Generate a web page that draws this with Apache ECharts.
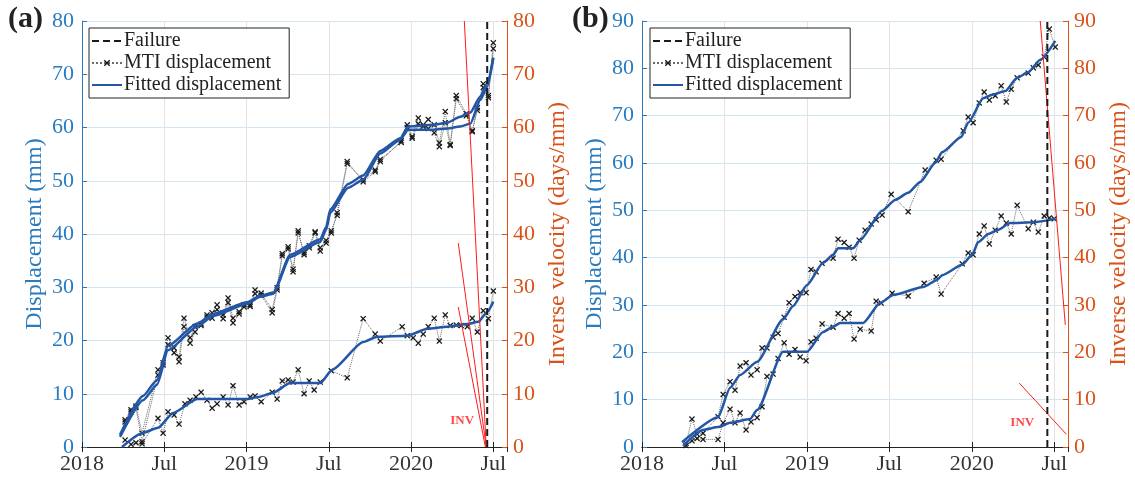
<!DOCTYPE html>
<html>
<head>
<meta charset="utf-8">
<script src="https://cdn.jsdelivr.net/npm/echarts@6/dist/echarts.min.js"></script>
<style>
  html, body { margin: 0; padding: 0; background: #fff; }
  #chart { width: 1135px; height: 479px; }
</style>
</head>
<body>
<div id="chart"></div>
<script>
// Time is given in decimal years (2018.5 = start of July 2018).
const xTickLabels = { whole: y => String(y), half: 'Jul' };

// ---------- Panel (a) ----------
const aUpT = [2018.262,2018.298,2018.328,2018.365,2018.462,2018.493,2018.523,2018.560,2018.590,2018.620,
  2018.657,2018.687,2018.724,2018.760,2018.791,2018.821,2018.858,2018.888,2018.918,2018.955,
  2018.985,2019.022,2019.052,2019.089,2019.156,2019.186,2019.217,2019.253,2019.283,2019.314,
  2019.350,2019.381,2019.417,2019.448,2019.484,2019.515,2019.551,2019.612,2019.709,2019.782,
  2019.813,2019.940,2019.977,2020.007,2020.044,2020.074,2020.105,2020.141,2020.172,2020.208,
  2020.238,2020.275,2020.336,2020.372,2020.403,2020.439,2020.470,2020.500];
const aUp1 = [5.1,7.0,7.7,2.6,14.5,15.8,20.5,18.6,16.9,24.2,
  20.5,22.6,23.1,24.8,25.2,26.7,24.8,28.0,24.2,25.4,
  26.7,26.7,29.5,28.9,25.8,29.9,36.3,37.6,32.9,40.6,
  36.1,37.4,40.2,36.8,38.3,40.2,44.0,53.6,49.8,51.7,
  53.6,57.5,60.5,58.3,61.8,60.5,61.5,60.5,57.1,63.0,
  56.8,66.0,62.6,59.2,63.7,68.2,66.0,75.9];
const aUp2 = [4.7,6.6,7.4,1.0,13.5,15.4,19.2,17.7,16.0,22.6,
  19.5,21.6,22.8,24.4,24.2,25.8,24.1,27.1,23.3,25.0,
  26.3,26.4,28.8,28.5,25.2,29.5,35.9,37.2,33.4,40.2,
  36.5,37.8,40.4,37.4,38.8,40.6,43.5,53.2,50.2,52.0,
  54.0,57.2,60.0,58.0,60.7,60.2,59.8,59.0,56.4,60.9,
  56.6,65.4,62.2,59.4,63.2,67.5,65.6,74.8];

const aLowT = [2018.262,2018.298,2018.328,2018.365,2018.462,2018.493,2018.523,2018.560,2018.590,2018.626,
  2018.657,2018.693,2018.724,2018.760,2018.791,2018.821,2018.858,2018.888,2018.918,2018.955,
  2018.985,2019.022,2019.052,2019.089,2019.156,2019.186,2019.217,2019.253,2019.283,2019.314,
  2019.350,2019.381,2019.411,2019.448,2019.515,2019.612,2019.709,2019.782,2019.813,2019.946,
  2019.977,2020.013,2020.044,2020.074,2020.105,2020.141,2020.172,2020.208,2020.238,2020.275,
  2020.305,2020.342,2020.372,2020.403,2020.439,2020.470,2020.500];
const aLow = [1.3,0.5,0.8,0.6,5.4,2.6,6.6,6.0,4.3,8.1,
  8.8,9.4,10.3,8.8,7.3,8.1,9.4,7.9,11.5,7.9,
  8.5,9.4,9.6,8.5,10.3,9.0,12.4,12.6,12.2,14.5,
  10.0,12.4,10.7,12.2,14.3,13.0,24.1,21.2,19.9,22.6,
  20.9,20.5,19.5,21.2,22.6,24.2,19.9,24.8,22.8,22.9,
  22.8,22.6,24.2,21.6,25.6,24.1,29.3];

const aFitUpT = [2018.231,2018.371,2018.456,2018.523,2018.700,2018.797,2019.004,2019.083,2019.162,2019.265,
  2019.448,2019.484,2019.509,2019.618,2019.709,2019.813,2019.934,2019.983,2020.135,2020.220,
  2020.299,2020.360,2020.421,2020.464,2020.500];
const aFitUp1 = [1.9,8.8,11.7,18.2,22.6,24.6,26.9,28.2,28.8,35.7,
  38.5,40.8,44.0,48.7,50.2,55.1,57.7,59.6,59.6,59.8,
  60.2,60.7,65.2,67.7,73.1];
const aFitUp2 = [2.3,9.6,12.6,19.0,23.2,25.0,27.2,28.4,29.0,36.1,
  39.0,41.3,44.6,49.4,51.0,55.6,58.0,60.2,60.5,60.9,
  62.0,62.8,65.8,68.4,73.1];

const aFitLowT = [2018.243,2018.365,2018.462,2018.554,2018.700,2019.004,2019.071,2019.162,2019.265,2019.448,
  2019.521,2019.709,2019.794,2019.977,2020.099,2020.220,2020.342,2020.409,2020.464,2020.500];
const aFitLow = [0.0,2.6,3.6,6.4,9.0,9.0,9.4,10.2,12.0,12.0,
  14.5,19.7,20.7,20.9,22.2,22.6,23.1,23.5,25.4,27.3];

const aFailure = 2020.463;
const aInvLines = [
  [[2020.324, 80], [2020.457, 0]],
  [[2020.287, 38.3], [2020.457, 0]],
  [[2020.287, 26.3], [2020.452, 0]]
];
const aInvLabel = [2020.311, 4.9];

// ---------- Panel (b) ----------
const bUpT = [2018.267,2018.303,2018.334,2018.370,2018.461,2018.492,2018.534,2018.564,2018.595,2018.631,
  2018.661,2018.698,2018.728,2018.758,2018.795,2018.825,2018.862,2018.892,2018.928,2018.959,
  2018.995,2019.025,2019.056,2019.092,2019.159,2019.189,2019.226,2019.256,2019.286,2019.317,
  2019.353,2019.390,2019.420,2019.456,2019.511,2019.614,2019.717,2019.784,2019.814,2019.948,
  2019.978,2020.008,2020.045,2020.075,2020.106,2020.142,2020.178,2020.209,2020.239,2020.275,
  2020.342,2020.373,2020.403,2020.439,2020.470,2020.506];
const bUp = [0.8,5.9,2.7,2.9,6.4,11.1,13.8,12.0,17.1,17.8,
  15.2,16.3,20.9,20.9,23.2,24.0,27.4,30.5,31.8,32.6,
  32.6,37.5,37.0,38.8,39.9,43.9,43.2,42.2,39.9,43.7,
  45.8,47.1,48.0,49.0,53.4,49.7,58.5,60.6,60.8,66.8,
  69.7,68.5,72.7,75.0,73.3,74.2,76.3,72.9,75.6,78.0,
  79.0,80.1,80.7,82.4,88.3,84.5];

const bLowT = [2018.267,2018.303,2018.334,2018.370,2018.461,2018.492,2018.534,2018.564,2018.595,2018.631,
  2018.661,2018.698,2018.728,2018.758,2018.795,2018.825,2018.862,2018.892,2018.928,2018.959,
  2018.995,2019.025,2019.056,2019.092,2019.159,2019.189,2019.226,2019.256,2019.286,2019.323,
  2019.390,2019.420,2019.450,2019.517,2019.614,2019.711,2019.784,2019.814,2019.942,2019.978,
  2020.008,2020.045,2020.075,2020.106,2020.142,2020.178,2020.209,2020.239,2020.275,2020.342,
  2020.373,2020.403,2020.439,2020.470,2020.500];
const bLow = [0.3,1.3,1.8,1.6,1.6,5.1,8.0,5.1,7.2,3.6,
  5.3,6.2,8.5,14.9,15.4,18.7,22.0,19.6,20.6,19.0,
  18.2,22.2,23.0,26.0,25.3,28.2,27.2,28.2,22.8,24.9,
  24.5,30.8,30.4,32.5,31.9,34.6,35.9,32.3,38.7,41.0,
  40.6,45.0,46.7,42.9,45.8,48.8,47.3,45.0,51.1,46.1,
  47.5,45.4,48.8,48.4,48.2];

const bFitUpT = [2018.243,2018.461,2018.534,2018.595,2018.698,2018.856,2018.916,2019.001,2019.098,2019.159,
  2019.189,2019.280,2019.323,2019.456,2019.535,2019.614,2019.687,2019.778,2019.820,2019.936,
  2019.978,2020.069,2020.124,2020.203,2020.275,2020.342,2020.415,2020.506];
const bFitUp = [1.0,6.3,12.5,15.2,18.0,27.0,29.8,34.2,38.9,40.6,
  42.0,42.0,43.7,49.9,52.2,53.7,56.0,60.0,62.3,65.5,
  68.5,73.7,74.4,75.2,78.0,79.2,81.8,85.8];

const bFitLowT = [2018.249,2018.370,2018.461,2018.534,2018.655,2018.698,2018.856,2019.001,2019.098,2019.159,
  2019.201,2019.341,2019.444,2019.523,2019.705,2019.790,2019.820,2019.942,2020.002,2020.039,
  2020.100,2020.154,2020.233,2020.373,2020.506];
const bFitLow = [0.2,3.6,4.2,5.1,5.9,7.8,20.1,20.1,24.3,25.4,
  26.2,26.2,30.4,32.1,33.8,35.3,36.3,38.5,40.6,43.3,
  45.0,45.8,47.3,47.5,48.2];

const bFailure = 2020.458;
const bInvLines = [
  [[2020.415, 90], [2020.567, 25.8]],
  [[2020.288, 13.5], [2020.573, 2.7]]
];
const bInvLabel = [2020.306, 5.1];

const xMin = 2018, xMax = 2020.5833;
const leftMax = [80, 90];
const rightMax = [80, 90];
const panelLabels = ['(a)', '(b)'];

// ---------- Styling ----------
const FONT = 'Liberation Serif';
const AXIS_BLUE = '#2a7bbf';
const AXIS_ORANGE = '#d95319';
const FIT_BLUE = '#2456a6';
const INV_RED = '#ff1a1a';
const CROSS = 'path://M0,1.5L1.5,0L5,3.5L8.5,0L10,1.5L6.5,5L10,8.5L8.5,10L5,6.5L1.5,10L0,8.5L3.5,5Z';
const CLEAR = 'rgba(0,0,0,0)';

const pairs = (t, v) => t.map((x, i) => [x, v[i]]);

function xLabel(v) {
  const r = Math.round(v);
  if (Math.abs(v - r) < 1e-6) return xTickLabels.whole(r);
  if (Math.abs(v - Math.floor(v) - 0.5) < 1e-6) return xTickLabels.half;
  return '';
}

const grids = [
  { left: 82, top: 21, width: 425, height: 426 },
  { left: 642, top: 21, width: 426, height: 426 }
];

const xAxes = [], yAxes = [];
[0, 1].forEach(g => {
  xAxes.push({
    gridIndex: g, type: 'value', min: xMin, max: xMax, interval: 0.5,
    axisLine: { lineStyle: { color: '#222', width: 1 } },
    axisTick: { inside: true, length: 5, lineStyle: { color: '#222' } },
    axisLabel: { formatter: xLabel, showMaxLabel: false, fontFamily: FONT, fontSize: 22, color: '#333', margin: 6 },
    splitLine: { show: true, lineStyle: { color: '#e3e3e3', width: 1 } }
  });
  xAxes.push({
    gridIndex: g, type: 'value', position: 'top', min: xMin, max: xMax, interval: 0.5,
    axisLine: { lineStyle: { color: '#222', width: 1 } },
    axisTick: { inside: true, length: 5, lineStyle: { color: '#222' } },
    axisLabel: { show: false }, splitLine: { show: false }
  });
  yAxes.push({
    gridIndex: g, type: 'value', position: 'left', min: 0, max: leftMax[g], interval: 10,
    name: 'Displacement (mm)', nameLocation: 'middle', nameGap: 35,
    nameTextStyle: { fontFamily: FONT, fontSize: 24, color: AXIS_BLUE },
    axisLine: { show: true, lineStyle: { color: AXIS_BLUE, width: 1 } },
    axisTick: { show: true, inside: true, length: 5, lineStyle: { color: AXIS_BLUE } },
    axisLabel: { fontFamily: FONT, fontSize: 22, color: AXIS_BLUE, margin: 8 },
    splitLine: { show: true, lineStyle: { color: '#d3e5f1', width: 1 } }
  });
  yAxes.push({
    gridIndex: g, type: 'value', position: 'right', min: 0, max: rightMax[g], interval: 10,
    name: 'Inverse velocity (days/mm)', nameLocation: 'middle', nameGap: 39,
    nameTextStyle: { fontFamily: FONT, fontSize: 24, color: AXIS_ORANGE },
    axisLine: { show: true, lineStyle: { color: AXIS_ORANGE, width: 1 } },
    axisTick: { show: true, inside: true, length: 5, lineStyle: { color: AXIS_ORANGE } },
    axisLabel: { fontFamily: FONT, fontSize: 22, color: AXIS_ORANGE, margin: 6 },
    splitLine: { show: false }
  });
});

function mtiSeries(g, data) {
  return {
    name: 'MTI displacement', type: 'line', xAxisIndex: g * 2, yAxisIndex: g * 2,
    data, symbol: CROSS, symbolSize: 6, showAllSymbol: true,
    itemStyle: { color: '#1a1a1a' },
    lineStyle: { type: 'dotted', width: 1, color: '#6a6a6a' },
    z: 2, silent: true
  };
}
function fitSeries(g, data) {
  return {
    name: 'Fitted displacement', type: 'line', xAxisIndex: g * 2, yAxisIndex: g * 2,
    data, symbol: 'none', smooth: 0.2, smoothMonotone: 'x',
    lineStyle: { color: FIT_BLUE, width: 2.5 }, itemStyle: { color: FIT_BLUE },
    z: 3, silent: true
  };
}
function failureSeries(g, t) {
  return {
    name: 'Failure', type: 'line', xAxisIndex: g * 2, yAxisIndex: g * 2,
    data: [[t, 0], [t, leftMax[g]]], symbol: 'none',
    lineStyle: { color: '#1a1a1a', width: 2, type: [7, 4] }, itemStyle: { color: '#1a1a1a' },
    z: 6, silent: true
  };
}
function invSeries(g, seg) {
  return {
    type: 'line', xAxisIndex: g * 2, yAxisIndex: g * 2 + 1,
    data: seg, symbol: 'none', lineStyle: { color: INV_RED, width: 1 },
    z: 5, silent: true
  };
}
function invLabel(g, p) {
  return {
    type: 'scatter', xAxisIndex: g * 2, yAxisIndex: g * 2 + 1,
    data: [p], symbolSize: 0, silent: true, z: 7,
    label: { show: true, position: 'inside', formatter: 'INV', fontFamily: FONT, fontSize: 13, fontWeight: 'bold', color: INV_RED }
  };
}

const series = [
  mtiSeries(0, pairs(aUpT, aUp1)),
  mtiSeries(0, pairs(aUpT, aUp2)),
  mtiSeries(0, pairs(aLowT, aLow)),
  fitSeries(0, pairs(aFitUpT, aFitUp1)),
  fitSeries(0, pairs(aFitUpT, aFitUp2)),
  fitSeries(0, pairs(aFitLowT, aFitLow)),
  ...aInvLines.map(s => invSeries(0, s)),
  invLabel(0, aInvLabel),
  failureSeries(0, aFailure),

  mtiSeries(1, pairs(bUpT, bUp)),
  mtiSeries(1, pairs(bLowT, bLow)),
  fitSeries(1, pairs(bFitUpT, bFitUp)),
  fitSeries(1, pairs(bFitLowT, bFitLow)),
  ...bInvLines.map(s => invSeries(1, s)),
  invLabel(1, bInvLabel),
  failureSeries(1, bFailure)
];

// Legend: plain line icons for the failure and fitted curves, line + cross for MTI.
const legendBase = {
  orient: 'vertical', itemGap: 2, itemWidth: 30, itemHeight: 8,
  padding: [3, 8, 3, 2],
  borderColor: '#222', borderWidth: 1, backgroundColor: '#fff',
  textStyle: { fontFamily: FONT, fontSize: 20, color: '#222', padding: [0, 0, 0, -3] },
  data: [
    { name: 'Failure', itemStyle: { color: CLEAR, borderColor: CLEAR, borderWidth: 0 } },
    { name: 'MTI displacement' },
    { name: 'Fitted displacement', itemStyle: { color: CLEAR, borderColor: CLEAR, borderWidth: 0 } }
  ],
  selectedMode: false, z: 10
};

const option = {
  animation: false,
  backgroundColor: '#fff',
  grid: grids,
  xAxis: xAxes,
  yAxis: yAxes,
  legend: [
    Object.assign({}, legendBase, { left: 89, top: 28 }),
    Object.assign({}, legendBase, { left: 650, top: 28 })
  ],
  graphic: [
    { type: 'text', left: 8, top: 4, style: { text: panelLabels[0], font: 'bold 30px "Liberation Serif"', fill: '#222' } },
    { type: 'text', left: 572, top: 4, style: { text: panelLabels[1], font: 'bold 30px "Liberation Serif"', fill: '#222' } }
  ],
  series
};

const chart = echarts.init(document.getElementById('chart'), null, { renderer: 'canvas' });
chart.setOption(option);
</script>
</body>
</html>
